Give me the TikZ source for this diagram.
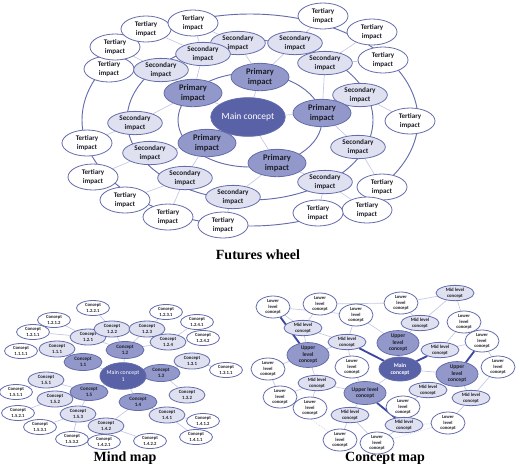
\documentclass[tikz,border=0pt]{standalone}
\usepackage{fontspec}
\setmainfont{Carlito}
\newfontfamily\titlefont{Liberation Serif}
\usetikzlibrary{shapes.geometric}
\pgfdeclarelayer{bg}
\pgfsetlayers{bg,main}
\definecolor{dk}{RGB}{89,98,166}
\definecolor{pf}{RGB}{146,153,202}
\definecolor{sf}{RGB}{223,225,240}
\definecolor{bd}{RGB}{100,108,172}
\definecolor{ln}{RGB}{196,200,228}
\definecolor{thk}{RGB}{62,72,160}
\definecolor{tx}{RGB}{30,30,40}
\begin{document}
\begin{tikzpicture}[x=0.75pt,y=-0.75pt,
 base/.style={ellipse, inner sep=0pt, align=center, draw=bd, line width=0.6pt, text=tx},
 fwmain/.style={base, fill=dk, text=white, minimum width=51pt, minimum height=29pt, font=\fontsize{7.1}{8.5}\selectfont},
 fwprim/.style={base, fill=pf, minimum width=43.5pt, minimum height=20.5pt, font=\bfseries\fontsize{6.4}{7.4}\selectfont},
 fwsec/.style={base, fill=sf, minimum width=41pt, minimum height=17.5pt, font=\bfseries\fontsize{5.4}{6.6}\selectfont},
 fwter/.style={base, fill=white, minimum width=37.5pt, minimum height=19.5pt, font=\bfseries\fontsize{5.3}{6.6}\selectfont},
 mmmain/.style={base, fill=dk, text=white, minimum width=31.5pt, minimum height=20pt, font=\fontsize{4.4}{5.4}\selectfont},
 mmone/.style={base, fill=pf, minimum width=28.5pt, minimum height=12.75pt, font=\bfseries\fontsize{3.8}{4.6}\selectfont},
 mmtwo/.style={base, fill=sf, minimum width=27pt, minimum height=12pt, font=\bfseries\fontsize{3.6}{4.5}\selectfont},
 mmthree/.style={base, fill=white, minimum width=24.75pt, minimum height=11.25pt, font=\bfseries\fontsize{3.5}{4.4}\selectfont},
 cmmain/.style={base, fill=dk, text=white, minimum width=31.5pt, minimum height=18pt, font=\bfseries\fontsize{4.3}{5.3}\selectfont},
 cmup/.style={base, fill=pf, minimum width=31.5pt, minimum height=17.25pt, font=\bfseries\fontsize{4.2}{4.9}\selectfont},
 cmmid/.style={base, fill=sf, minimum width=28.5pt, minimum height=11.5pt, font=\bfseries\fontsize{3.6}{4.4}\selectfont},
 cmlow/.style={base, fill=white, minimum width=25.5pt, minimum height=16.5pt, font=\bfseries\fontsize{3.5}{4.3}\selectfont},
 ring/.style={draw=bd, line width=0.7pt},
 lnk/.style={draw=ln, line width=0.5pt},
 dlnk/.style={draw=ln, line width=0.5pt, densely dotted},
 tlnk/.style={draw=thk, line width=1.4pt},
 ttl/.style={font=\titlefont\bfseries\fontsize{10.5}{12}\selectfont, text=black, inner sep=0pt}
]
\useasboundingbox (0,0) rectangle (520,469);

% ---------------- Futures wheel ----------------
\draw[ring] (250,120) ellipse [x radius=168, y radius=106];
\draw[ring] (250,120) ellipse [x radius=123, y radius=80];
\draw[ring] (250,120) ellipse [x radius=72, y radius=47];

\node[fwter] (t1) at (109,69) {Tertiary\\impact};
\node[fwter] (t2) at (115,47) {Tertiary\\impact};
\node[fwter] (t3) at (146,29) {Tertiary\\impact};
\node[fwter] (t4) at (193,23) {Tertiary\\impact};
\node[fwter] (t5) at (323,16) {Tertiary\\impact};
\node[fwter] (t6) at (372,32) {Tertiary\\impact};
\node[fwter] (t7) at (383,60) {Tertiary\\impact};
\node[fwter] (t8) at (410,121) {Tertiary\\impact};
\node[fwter] (t9) at (382,187) {Tertiary\\impact};
\node[fwter] (t10) at (367,210) {Tertiary\\impact};
\node[fwter] (t11) at (318,213) {Tertiary\\impact};
\node[fwter] (t12) at (223,225) {Tertiary\\impact};
\node[fwter] (t13) at (168,217) {Tertiary\\impact};
\node[fwter] (t14) at (125,200) {Tertiary\\impact};
\node[fwter] (t15) at (93,177) {Tertiary\\impact};
\node[fwter] (t16) at (87,143) {Tertiary\\impact};

\node[fwsec] (s1) at (161,70) {Secondary\\impact};
\node[fwsec] (s3) at (238,43) {Secondary\\impact};
\node[fwsec] (s2) at (203,54) {Secondary\\impact};
\node[fwsec] (s4) at (295,43) {Secondary\\impact};
\node[fwsec] (s5) at (325,63) {Secondary\\impact};
\node[fwsec] (s6) at (360,95) {Secondary\\impact};
\node[fwsec] (s7) at (358,147) {Secondary\\impact};
\node[fwsec] (s8) at (325,182) {Secondary\\impact};
\node[fwsec] (s9) at (233,197) {Secondary\\impact};
\node[fwsec] (s10) at (185,178) {Secondary\\impact};
\node[fwsec] (s11) at (150,153) {Secondary\\impact};
\node[fwsec] (s12) at (135,123) {Secondary\\impact};

\node[fwprim] (p1) at (193,93) {Primary\\impact};
\node[fwprim] (p2) at (260,77) {Primary\\impact};
\node[fwprim] (p3) at (322,113) {Primary\\impact};
\node[fwprim] (p4) at (207,143) {Primary\\impact};
\node[fwprim] (p5) at (277,163) {Primary\\impact};

\node[fwmain] (mc) at (248,117) {Main concept};

\begin{pgfonlayer}{bg}
\foreach \p in {p1,p2,p3,p4,p5} \draw[lnk] (mc) -- (\p);
\draw[lnk] (p1) -- (s1); \draw[lnk] (p1) -- (s2); \draw[lnk] (p1) -- (s12);
\draw[lnk] (p2) -- (s3); \draw[lnk] (p2) -- (s4);
\draw[lnk] (p3) -- (s5); \draw[lnk] (p3) -- (s6); \draw[lnk] (p3) -- (s7);
\draw[lnk] (p4) -- (s11); \draw[lnk] (p4) -- (s10);
\draw[lnk] (p5) -- (s8); \draw[lnk] (p5) -- (s9);
\draw[lnk] (s1) -- (t1); \draw[lnk] (s1) -- (t2);
\draw[lnk] (s2) -- (t3); \draw[lnk] (s2) -- (t4);
\draw[lnk] (s3) -- (t4); \draw[lnk] (s4) -- (t5);
\draw[lnk] (s5) -- (t6); \draw[lnk] (s5) -- (t7);
\draw[lnk] (s6) -- (t8); \draw[lnk] (s7) -- (t9);
\draw[lnk] (s8) -- (t10); \draw[lnk] (s8) -- (t11);
\draw[lnk] (s9) -- (t12); \draw[lnk] (s10) -- (t13);
\draw[lnk] (s10) -- (t14); \draw[lnk] (s11) -- (t15);
\draw[lnk] (s12) -- (t16);
\end{pgfonlayer}

\node[ttl] (ft) at (258,255) {Futures wheel};

% ---------------- Mind map ----------------
\node[mmthree] (c1111) at (21,351) {Concept\\1.1.1.1};
\node[mmthree] (c1211) at (33,332) {Concept\\1.2.1.1};
\node[mmthree] (c1212) at (54,320) {Concept\\1.2.1.2};
\node[mmthree] (c1221) at (93,308) {Concept\\1.2.2.1};
\node[mmthree] (c1231) at (166,312) {Concept\\1.2.3.1};
\node[mmthree] (c1241) at (197,322) {Concept\\1.2.4.1};
\node[mmthree] (c1242) at (203,338) {Concept\\1.2.4.2};
\node[mmthree] (c1311) at (226,370) {Concept\\1.3.1.1};
\node[mmthree] (c1411) at (196,437) {Concept\\1.4.1.1};
\node[mmthree] (c1412) at (203,421) {Concept\\1.4.1.2};
\node[mmthree] (c1421) at (104,442) {Concept\\1.4.2.1};
\node[mmthree] (c1422) at (150,441) {Concept\\1.4.2.2};
\node[mmthree] (c1511) at (16,392) {Concept\\1.5.1.1};
\node[mmthree] (c1521) at (18,413) {Concept\\1.5.2.1};
\node[mmthree] (c1531) at (40,427) {Concept\\1.5.3.1};
\node[mmthree] (c1532) at (72,439) {Concept\\1.5.3.2};

\node[mmtwo] (c111) at (57,349) {Concept\\1.1.1};
\node[mmtwo] (c121) at (88,337) {Concept\\1.2.1};
\node[mmtwo] (c122) at (112,329) {Concept\\1.2.2};
\node[mmtwo] (c123) at (147,329) {Concept\\1.2.3};
\node[mmtwo] (c124) at (168,342) {Concept\\1.2.4};
\node[mmtwo] (c131) at (192,361) {Concept\\1.3.1};
\node[mmtwo] (c132) at (187,395) {Concept\\1.3.2};
\node[mmtwo] (c141) at (167,415) {Concept\\1.4.1};
\node[mmtwo] (c142) at (106,426) {Concept\\1.4.2};
\node[mmtwo] (c151) at (46,380) {Concept\\1.5.1};
\node[mmtwo] (c152) at (55,399) {Concept\\1.5.2};
\node[mmtwo] (c153) at (78,414) {Concept\\1.5.3};

\node[mmone] (c11) at (83,362) {Concept\\1.1};
\node[mmone] (c12) at (125,350) {Concept\\1.2};
\node[mmone] (c13) at (161,373) {Concept\\1.3};
\node[mmone] (c14) at (138,402) {Concept\\1.4};
\node[mmone] (c15) at (89,392) {Concept\\1.5};

\node[mmmain] (mm) at (123,376) {Main concept\\1};

\begin{pgfonlayer}{bg}
\foreach \c in {c11,c12,c13,c14,c15} \draw[lnk] (mm) -- (\c);
\draw[lnk] (c11) -- (c111); \draw[lnk] (c111) -- (c1111);
\draw[lnk] (c12) -- (c121); \draw[lnk] (c12) -- (c122);
\draw[lnk] (c12) -- (c123); \draw[lnk] (c12) -- (c124);
\draw[lnk] (c121) -- (c1211); \draw[lnk] (c121) -- (c1212);
\draw[lnk] (c122) -- (c1221); \draw[lnk] (c123) -- (c1231);
\draw[lnk] (c124) -- (c1241); \draw[lnk] (c124) -- (c1242);
\draw[lnk] (c13) -- (c131); \draw[lnk] (c13) -- (c132);
\draw[lnk] (c131) -- (c1311);
\draw[lnk] (c14) -- (c141); \draw[lnk] (c14) -- (c142);
\draw[lnk] (c141) -- (c1411); \draw[lnk] (c141) -- (c1412);
\draw[lnk] (c142) -- (c1421); \draw[lnk] (c142) -- (c1422);
\draw[lnk] (c15) -- (c151); \draw[lnk] (c15) -- (c152); \draw[lnk] (c15) -- (c153);
\draw[lnk] (c151) -- (c1511); \draw[lnk] (c152) -- (c1521);
\draw[lnk] (c153) -- (c1531); \draw[lnk] (c153) -- (c1532);
\end{pgfonlayer}

\node[ttl] (mt) at (125,458) {Mind map};

% ---------------- Concept map ----------------
\node[cmlow] (l1) at (273,307) {Lower\\level\\concept};
\node[cmlow] (l2) at (320,304) {Lower\\level\\concept};
\node[cmlow] (l3) at (356,315) {Lower\\level\\concept};
\node[cmlow] (l4) at (401,303) {Lower\\level\\concept};
\node[cmlow] (l5) at (464,322) {Lower\\level\\concept};
\node[cmlow] (l6) at (482,341) {Lower\\level\\concept};
\node[cmlow] (l7) at (498,367) {Lower\\level\\concept};
\node[cmlow] (l8) at (268,369) {Lower\\level\\concept};
\node[cmlow] (l9) at (352,367) {Lower\\level\\concept};
\node[cmlow] (l10) at (280,397) {Lower\\level\\concept};
\node[cmlow] (l11) at (310,408) {Lower\\level\\concept};
\node[cmlow] (l12) at (340,440) {Lower\\level\\concept};
\node[cmlow] (l13) at (377,443) {Lower\\level\\concept};
\node[cmlow] (l14) at (403,407) {Lower\\level\\concept};
\node[cmlow] (l15) at (448,423) {Lower\\level\\concept};

\node[cmmid] (m1) at (303,328) {Mid level\\concept};
\node[cmmid] (m2) at (347,342) {Mid level\\concept};
\node[cmmid] (m3) at (455,293) {Mid level\\concept};
\node[cmmid] (m4) at (420,323) {Mid level\\concept};
\node[cmmid] (m5) at (440,350) {Mid level\\concept};
\node[cmmid] (m6) at (317,383) {Mid level\\concept};
\node[cmmid] (m7) at (350,415) {Mid level\\concept};
\node[cmmid] (m8) at (428,390) {Mid level\\concept};
\node[cmmid] (m9) at (471,398) {Mid level\\concept};
\node[cmmid] (m10) at (404,425) {Mid level\\concept};

\node[cmup] (u1) at (308,355) {Upper\\level\\concept};
\node[cmup] (u2) at (398,343) {Upper\\level\\concept};
\node[cmup] (u3) at (457,374) {Upper\\level\\concept};
\node[cmup] (u4) at (365,393) {Upper level\\concept};

\node[cmmain] (cm) at (400,369) {Main\\concept};

\begin{pgfonlayer}{bg}
\draw[tlnk] (l1) -- (u1);
\draw[tlnk] (m2) -- (cm);
\draw[tlnk] (cm) -- (m5);
\draw[tlnk] (u3) -- (l6);
\draw[tlnk] (u4) -- (m10);
\draw[lnk] (cm) -- (u2); \draw[lnk] (cm) -- (u3); \draw[lnk] (cm) -- (u4);
\draw[lnk] (l1) -- (m1); \draw[lnk] (l1) -- (l3);
\draw[lnk] (l2) -- (m1); \draw[lnk] (l2) -- (l4);
\draw[lnk] (m1) -- (m2); \draw[lnk] (m1) -- (u1);
\draw[lnk] (l3) -- (m2); \draw[lnk] (l3) -- (u2);
\draw[lnk] (u1) -- (m2); \draw[lnk] (u1) -- (l8); \draw[lnk] (u1) -- (m6);
\draw[lnk] (l8) -- (l10); \draw[lnk] (m6) -- (l10); \draw[lnk] (m6) -- (l11);
\draw[lnk] (m6) -- (u4); \draw[dlnk] (l10) -- (l12);
\draw[lnk] (u4) -- (m7); \draw[lnk] (m7) -- (l12); \draw[lnk] (m7) -- (l13);
\draw[lnk] (m2) -- (l9); \draw[lnk] (l9) -- (u4);
\draw[lnk] (l13) -- (m10); \draw[lnk] (m10) -- (l14);
\draw[lnk] (l14) -- (m8); \draw[lnk] (m8) -- (u3);
\draw[lnk] (u3) -- (m9); \draw[lnk] (m9) -- (l7); \draw[lnk] (m9) -- (l15);
\draw[dlnk] (l15) -- (m10); \draw[dlnk] (l13) -- (l15);
\draw[lnk] (u2) -- (m4); \draw[lnk] (m4) -- (l4); \draw[lnk] (m4) -- (m3);
\draw[lnk] (m3) -- (l5); \draw[lnk] (l5) -- (m5); \draw[lnk] (m5) -- (l6);
\draw[lnk] (m3) -- (l4); \draw[lnk] (l7) -- (l6);
\end{pgfonlayer}

\node[ttl] (ct) at (385,458) {Concept map};
\end{tikzpicture}
\end{document}
